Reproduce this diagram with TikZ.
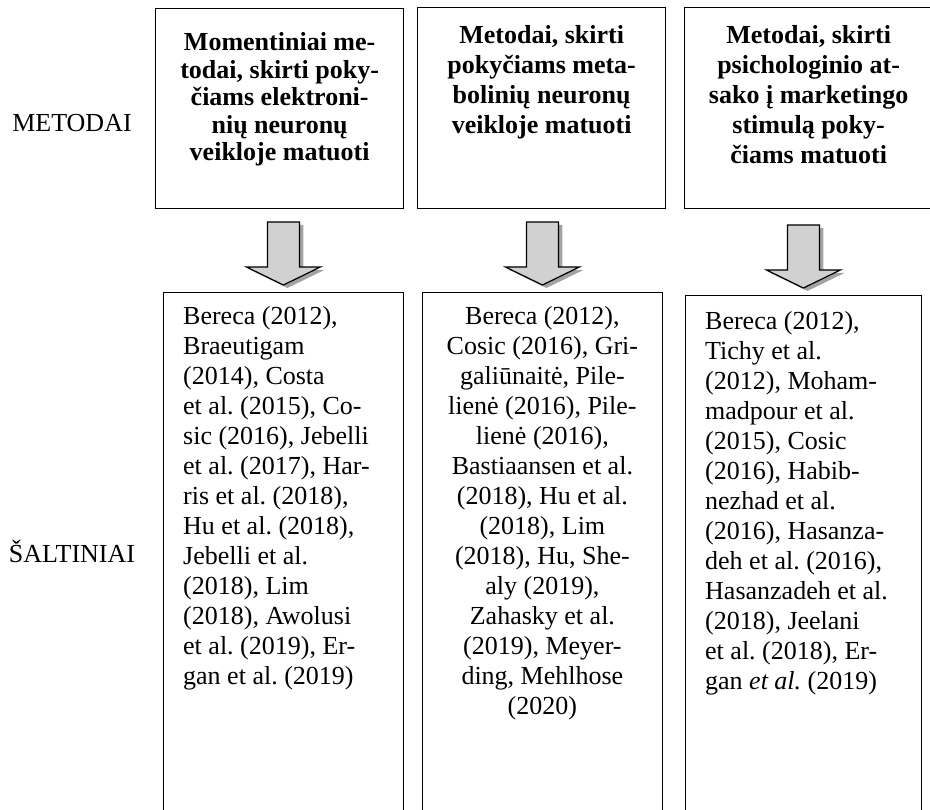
\documentclass[tikz,border=0pt]{standalone}
\usepackage{fontspec}
\setmainfont{Liberation Serif}
\frenchspacing
\usetikzlibrary{positioning,calc}
\definecolor{arrowFill}{gray}{0.82}
\definecolor{arrowShade}{gray}{0.40}

\begin{document}
\begin{tikzpicture}[x=1pt, y=-1pt,
          frame/.style={draw, line width=1.3pt, inner sep=0pt, anchor=north west, minimum width=248pt, minimum height=200pt},
          src/.style={draw, line width=0.8pt, inner sep=0pt, anchor=north west, minimum width=240pt, minimum height=540pt},
          head/.style={font=\bfseries\fontsize{26}{30}\selectfont, align=center, inner sep=0pt},
          body/.style={font=\fontsize{26}{30}\selectfont, inner sep=0pt},
          side/.style={font=\fontsize{26}{30}\selectfont, inner sep=0pt, anchor=base},
          blockarr/.style={draw, line width=1.2pt, fill=arrowFill, line join=miter},
          blockshade/.style={fill=arrowShade, opacity=0.6}]
        \useasboundingbox (0,0) rectangle (930,810);
        \clip (0,0) rectangle (930,810);
        % row labels
        \node[side] (lm) at (72,132) {METODAI};
        \node[side] (ls) at (72,562) {ŠALTINIAI};
        % method boxes
        \node[frame] (t1) at (155,8) {};
        \node[frame, minimum height=201pt] (t2) at (417,7) {};
        \node[frame, minimum height=201pt] (t3) at (684,7) {};
        \node[head, font=\bfseries\fontsize{26}{27.5}\selectfont, below=24.5pt of t1.north] (h1) {Momentiniai me-\\todai, skirti poky-\\čiams elektroni-\\nių neuronų\\veikloje matuoti};
        \node[head, below=18.5pt of t2.north] (h2) {Metodai, skirti\\pokyčiams meta-\\bolinių neuronų\\veikloje matuoti};
        \node[head, below=18.5pt of t3.north] (h3) {Metodai, skirti\\psichologinio at-\\sako į marketingo\\stimulą poky-\\čiams matuoti};
        % source boxes
        \node[src] (b1) at (163,292) {};
        \node[src] (b2) at (422,292) {};
        \node[src, minimum width=236pt] (b3) at (685,295) {};
        \node[body, align=left, anchor=north west] (s1) at ($(b1.north west)+(20,14)$) {Bereca (2012),\\Braeutigam\\(2014), Costa\\et al. (2015), Co-\\sic (2016), Jebelli\\et al. (2017), Har-\\ris et al. (2018),\\Hu et al. (2018),\\Jebelli et al.\\(2018), Lim\\(2018), Awolusi\\et al. (2019), Er-\\gan et al. (2019)};
        \node[body, align=center, below=14pt of b2.north] (s2) {Bereca (2012),\\Cosic (2016), Gri-\\galiūnaitė, Pile-\\lienė (2016), Pile-\\lienė (2016),\\Bastiaansen et al.\\(2018), Hu et al.\\(2018), Lim\\(2018), Hu, She-\\aly (2019),\\Zahasky et al.\\(2019), Meyer-\\ding, Mehlhose\\(2020)};
        \node[body, align=left, anchor=north west] (s3) at ($(b3.north west)+(20,16)$) {Bereca (2012),\\Tichy et al.\\(2012), Moham-\\madpour et al.\\(2015), Cosic\\(2016), Habib-\\nezhad et al.\\(2016), Hasanza-\\deh et al. (2016),\\Hasanzadeh et al.\\(2018), Jeelani\\et al. (2018), Er-\\gan \textit{et al.} (2019)};
        % block arrows
        \foreach \i in {1,2,3}{
          \coordinate (tip\i) at ($(b\i.north)+(0,-7)$);
          \fill[blockshade, shift={(tip\i)}] (4,3) -- (41,-15) -- (20,-15) -- (20,-60) -- (-12,-60) -- (-12,-15) -- (-33,-15) -- cycle;
          \draw[blockarr, shift={(tip\i)}] (0,0) -- (37,-18) -- (16,-18) -- (16,-63) -- (-16,-63) -- (-16,-18) -- (-37,-18) -- cycle;
        }
      \end{tikzpicture}
\end{document}
